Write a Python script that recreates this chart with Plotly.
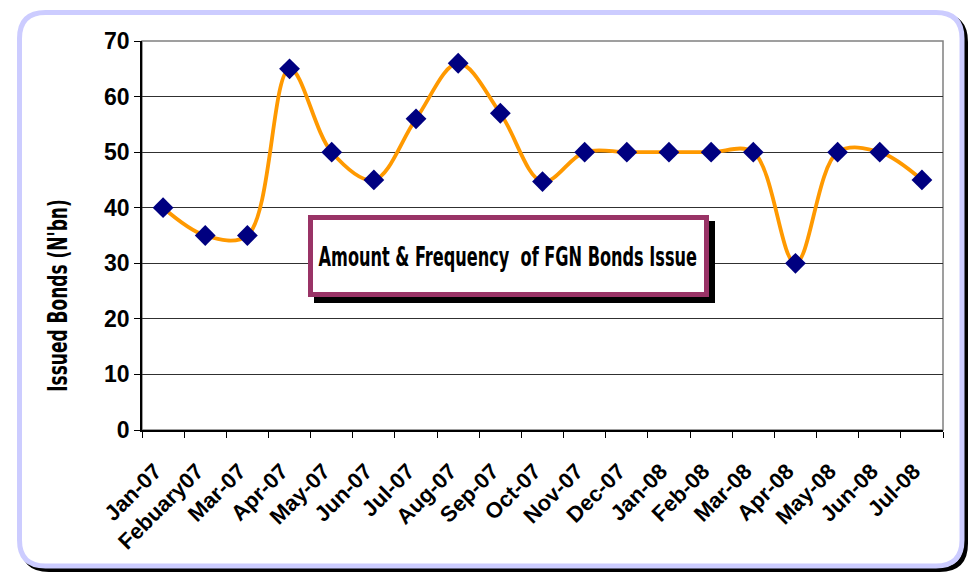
import plotly.graph_objects as go

months = ["Jan-07", "Febuary07", "Mar-07", "Apr-07", "May-07", "Jun-07", "Jul-07",
          "Aug-07", "Sep-07", "Oct-07", "Nov-07", "Dec-07", "Jan-08", "Feb-08",
          "Mar-08", "Apr-08", "May-08", "Jun-08", "Jul-08"]
issued = [40, 35, 35, 65, 50, 45, 56, 66, 57, 44.7, 50, 50, 50, 50, 50, 30, 50, 50, 45]
y_ticks = [0, 10, 20, 30, 40, 50, 60, 70]

W, H = 975, 573
L, R, T, B = 142, 943, 41, 430  # plot area in pixels


def px(x):
    return (x - L) / (R - L)


def py(y):
    return (B - y) / (B - T)


def rrect(x0, y0, x1, y1, r):
    pts = [
        f"M {px(x0 + r)},{py(y0)}",
        f"L {px(x1 - r)},{py(y0)}",
        f"Q {px(x1)},{py(y0)} {px(x1)},{py(y0 + r)}",
        f"L {px(x1)},{py(y1 - r)}",
        f"Q {px(x1)},{py(y1)} {px(x1 - r)},{py(y1)}",
        f"L {px(x0 + r)},{py(y1)}",
        f"Q {px(x0)},{py(y1)} {px(x0)},{py(y1 - r)}",
        f"L {px(x0)},{py(y0 + r)}",
        f"Q {px(x0)},{py(y0)} {px(x0 + r)},{py(y0)}",
        "Z",
    ]
    return " ".join(pts)


NARROW = "DejaVu Sans Condensed, DejaVu Sans, sans-serif"
ARIAL = "Liberation Sans, Arial, sans-serif"

fig = go.Figure()
fig.add_trace(go.Scatter(
    x=months, y=issued, mode="lines+markers",
    line=dict(color="#ff9900", width=3.8, shape="spline", smoothing=1),
    marker=dict(symbol="diamond", size=16, color="#000080"),
    showlegend=False, cliponaxis=False,
))

shapes = [
    dict(type="path", xref="paper", yref="paper", path=rrect(23, 16, 965.5, 569.5, 26),
         line=dict(color="black", width=5), layer="below"),
    dict(type="path", xref="paper", yref="paper", path=rrect(19.5, 12.5, 962, 566, 26),
         line=dict(color="#ccccff", width=5), fillcolor="white", layer="below"),
    dict(type="rect", xref="paper", yref="paper", x0=0, x1=1, y0=0, y1=1,
         line=dict(color="#808080", width=1.5), layer="below"),
    dict(type="rect", xref="paper", yref="paper",
         x0=px(314), x1=px(715), y0=py(221), y1=py(303),
         fillcolor="black", line=dict(width=0), layer="above"),
    dict(type="rect", xref="paper", yref="paper",
         x0=px(310.5), x1=px(706.5), y0=py(217.5), y1=py(294.5),
         fillcolor="white", line=dict(color="#993366", width=5), layer="above"),
]

annotations = [
    dict(text="Amount &amp; Frequency&nbsp; of FGN Bonds Issue", xref="paper", yref="paper",
         x=px(508), y=py(256), showarrow=False, xanchor="center", yanchor="middle",
         font=dict(family=NARROW, size=27, color="black", weight="bold")),
    dict(text="Issued Bonds (N'bn)", xref="paper", yref="paper",
         x=px(57), y=py(296), showarrow=False, textangle=-90,
         xanchor="center", yanchor="middle",
         font=dict(family=NARROW, size=27, color="black", weight="bold")),
]

fig.update_layout(
    width=W, height=H,
    margin=dict(l=L, r=W - R, t=T, b=H - B),
    paper_bgcolor="white", plot_bgcolor="#c0c0c0",
    shapes=shapes, annotations=annotations,
    xaxis=dict(type="category", range=[-0.5, len(months) - 0.5], tickson="boundaries",
               ticks="outside", ticklen=6, tickcolor="black", showgrid=False,
               showline=True, linecolor="black", linewidth=1.5, tickangle=-45,
               tickfont=dict(family=ARIAL, size=22, color="black", weight="bold"),
               ticklabelstandoff=18, ticklabelshift=-8),
    yaxis=dict(range=[0, 70], tickvals=y_ticks, ticks="outside", ticklen=6,
               tickcolor="black", showgrid=True, gridcolor="#303030", gridwidth=1,
               showline=True, linecolor="black", linewidth=1.5, zeroline=False,
               tickfont=dict(family=ARIAL, size=23, color="black", weight="bold")),
)

post = """
document.body.style.margin = '0px';
var sx = [0.665, 0.70];
document.querySelectorAll('.annotation-text').forEach(function (e, i) {
  e.style.transformBox = 'fill-box';
  e.style.transformOrigin = 'center';
  e.style.transform = 'scaleX(' + (sx[i] || 0.7) + ')';
});
"""

fig.write_html("out.html", post_script=post, config={"displayModeBar": False})
